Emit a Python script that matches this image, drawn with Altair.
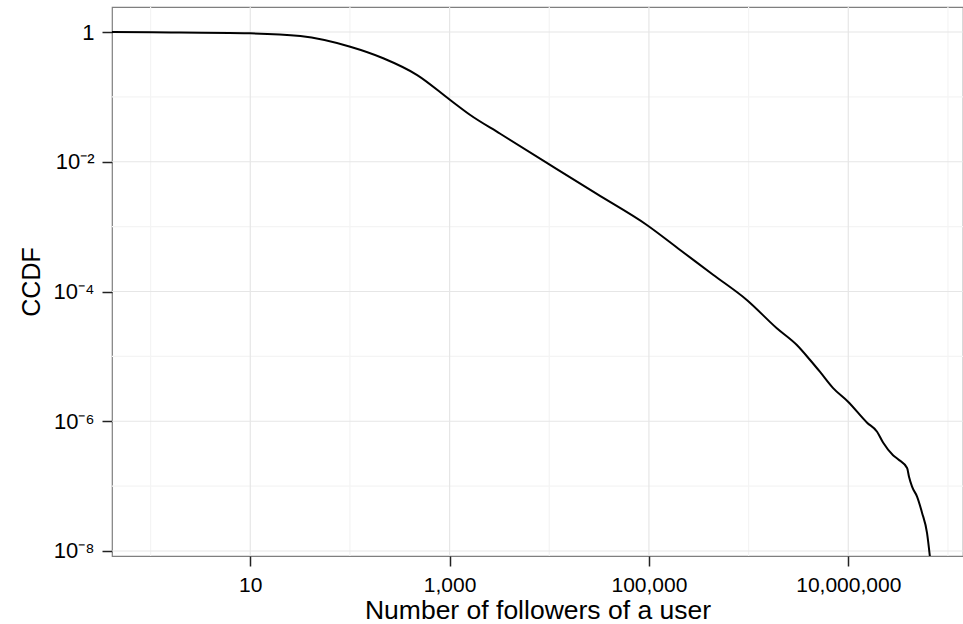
import altair as alt
import pandas as pd

# CCDF of number of followers
followers = [0.41, 1.03, 10, 31.8, 100.7, 215.8, 473, 1014, 1611, 3221, 9817,
             29990, 95280, 205600, 443600, 959500, 1919000, 3048000, 4140000,
             5212000, 7047000, 9954000, 15450000, 19450000, 22340000, 28120000,
             31620000, 38900000, 40740000, 43650000, 48980000, 54950000,
             61660000, 66070000]
ccdf = [1.0, 0.9886, 0.955, 0.867, 0.593, 0.394, 0.217, 0.0895, 0.0526,
        0.02704, 0.00929, 0.00319, 0.00106, 0.000437, 0.0001795, 7.40e-5,
        2.71e-5, 1.496e-5, 8.79e-6, 5.75e-6, 3.24e-6, 2.0e-6, 9.5e-7, 6.9e-7,
        4.7e-7, 3.0e-7, 2.6e-7, 1.9e-7, 1.38e-7, 9.8e-8, 6.9e-8, 3.9e-8,
        1.9e-8, 7.9e-9]

x_major = [10, 1000, 100000, 10000000]
x_labels = ["10", "1,000", "100,000", "10,000,000"]
x_minor = [1, 100, 10000, 1000000, 100000000]
y_major = [1, 1e-2, 1e-4, 1e-6, 1e-8]
y_labels = ["1", "10⁻²", "10⁻⁴", "10⁻⁶", "10⁻⁸"]
y_minor = [1e-1, 1e-3, 1e-5, 1e-7]

x_domain = [0.41, 1.416e8]
y_domain = [8.37e-9, 2.43]

df = pd.DataFrame({"followers": followers, "ccdf": ccdf})

xscale = alt.Scale(type="log", domain=x_domain, nice=False)
yscale = alt.Scale(type="log", domain=y_domain, nice=False)


def label_expr(values, labels):
    expr = "''"
    for v, l in zip(reversed(values), reversed(labels)):
        expr = f"abs(log(datum.value) - log({v!r})) < 0.01 ? '{l}' : ({expr})"
    return expr


x_axis = alt.Axis(values=x_major, labelExpr=label_expr(x_major, x_labels),
                  title="Number of followers of a user", titlePadding=2,
                  titleFontSize=26.5, labelFontSize=21, labelPadding=8)
y_axis = alt.Axis(values=y_major, labelExpr=label_expr(y_major, y_labels),
                  title="CCDF", titlePadding=9, titleFontSize=25,
                  labelFontSize=22, labelPadding=8)

minor_color = "#f4f4f4"
major_color = "#e6e6e6"

vminor = alt.Chart(pd.DataFrame({"v": x_minor})).mark_rule(
    color=minor_color, strokeWidth=1.2
).encode(x=alt.X("v:Q", scale=xscale, axis=x_axis))
vmajor = alt.Chart(pd.DataFrame({"v": x_major})).mark_rule(
    color=major_color, strokeWidth=1.2
).encode(x=alt.X("v:Q", scale=xscale, axis=x_axis))
hminor = alt.Chart(pd.DataFrame({"v": y_minor})).mark_rule(
    color=minor_color, strokeWidth=1.2
).encode(y=alt.Y("v:Q", scale=yscale, axis=y_axis))
hmajor = alt.Chart(pd.DataFrame({"v": y_major})).mark_rule(
    color=major_color, strokeWidth=1.2
).encode(y=alt.Y("v:Q", scale=yscale, axis=y_axis))

line = alt.Chart(df).mark_line(
    color="black", strokeWidth=2, interpolate="monotone", clip=True
).encode(
    x=alt.X("followers:Q", scale=xscale, axis=x_axis),
    y=alt.Y("ccdf:Q", scale=yscale, axis=y_axis),
    order=alt.Order("followers:Q"),
)

chart = alt.layer(vminor, hminor, vmajor, hmajor, line).properties(
    width=851,
    height=549,
    autosize=alt.AutoSizeParams(type="none"),
    padding={"left": 112, "top": 7, "right": 0, "bottom": 68},
    background="white",
).configure_view(
    stroke="#7f7f7f", strokeWidth=1.2
).configure_axis(
    grid=False,
    domain=False,
    labelFont="Liberation Sans",
    labelColor="black",
    titleFont="Liberation Sans",
    titleFontWeight="normal",
    titleColor="black",
    tickColor="#222222",
    tickSize=10,
    tickWidth=1.5,
)

chart.save("out.html", embed_options={"renderer": "svg", "actions": False})
